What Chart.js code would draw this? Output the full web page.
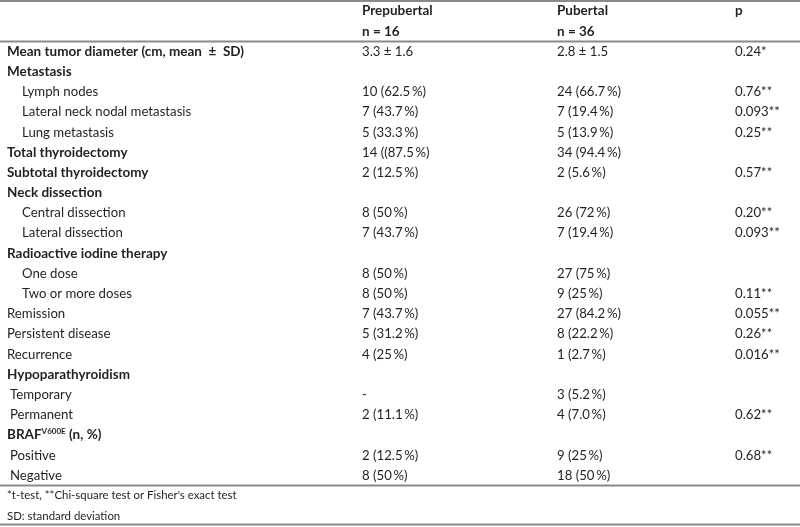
<!DOCTYPE html>
<html>
<head>
<meta charset="utf-8">
<script src="https://cdn.jsdelivr.net/npm/chart.js@4.4.1/dist/chart.umd.min.js"></script>
<style>
html, body { margin: 0; padding: 0; background: #fff; }
#wrap { width: 800px; height: 527px; }
</style>
</head>
<body>
<div id="wrap"><canvas id="table" width="800" height="527"></canvas></div>
<script>
/* table data, one array per column */
var headers = ["", "Prepubertal", "Pubertal", "p"];
var groupSizes = ["", "n = 16", "n = 36", ""];

var rowLabels = [
	"Mean tumor diameter (cm, mean \u00a0\u00b1\u00a0 SD)",
	"Metastasis",
	"Lymph nodes",
	"Lateral neck nodal metastasis",
	"Lung metastasis",
	"Total thyroidectomy",
	"Subtotal thyroidectomy",
	"Neck dissection",
	"Central dissection",
	"Lateral dissection",
	"Radioactive iodine therapy",
	"One dose",
	"Two or more doses",
	"Remission",
	"Persistent disease",
	"Recurrence",
	"Hypoparathyroidism",
	"Temporary",
	"Permanent",
	"BRAF{V600E} (n, %)",
	"Positive",
	"Negative"
];

// 0 = bold group row, 1 = sub row, 2 = slightly indented, 3 = plain row
var rowLevel = [0, 0, 1, 1, 1, 0, 0, 0, 1, 1, 0, 1, 1, 3, 3, 3, 0, 2, 2, 0, 2, 2];

var prepubertal = [
	"3.3 \u00b1 1.6", "", "10 (62.5\u2009%)", "7 (43.7\u2009%)", "5 (33.3\u2009%)",
	"14 ((87.5\u2009%)", "2 (12.5\u2009%)", "", "8 (50\u2009%)", "7 (43.7\u2009%)",
	"", "8 (50\u2009%)", "8 (50\u2009%)", "7 (43.7\u2009%)", "5 (31.2\u2009%)", "4 (25\u2009%)",
	"", "-", "2 (11.1\u2009%)", "", "2 (12.5\u2009%)", "8 (50\u2009%)"
];

var pubertal = [
	"2.8 \u00b1 1.5", "", "24 (66.7\u2009%)", "7 (19.4\u2009%)", "5 (13.9\u2009%)",
	"34 (94.4\u2009%)", "2 (5.6\u2009%)", "", "26 (72\u2009%)", "7 (19.4\u2009%)",
	"", "27 (75\u2009%)", "9 (25\u2009%)", "27 (84.2\u2009%)", "8 (22.2\u2009%)", "1 (2.7\u2009%)",
	"", "3 (5.2\u2009%)", "4 (7.0\u2009%)", "", "9 (25\u2009%)", "18 (50\u2009%)"
];

var pValues = [
	"0.24*", "", "0.76**", "0.093**", "0.25**",
	"", "0.57**", "", "0.20**", "0.093**",
	"", "", "0.11**", "0.055**", "0.26**", "0.016**",
	"", "", "0.62**", "", "0.68**", ""
];

var footnotes = [
	"*t-test, **Chi-square test or Fisher's exact test",
	"SD: standard deviation"
];

// every text line of the table is one category on the y axis
var lines = ["header", "n"].concat(rowLabels).concat(footnotes);

var textColor = "#231f20";
var ruleColor = "#8a8a8a";

function drawLabel(ctx, text, x, y, font, supFont) {
	var m = text.match(/^(.*)\{(.*)\}(.*)$/);
	ctx.font = font;
	if (!m) {
		ctx.fillText(text, x, y);
		return;
	}
	ctx.fillText(m[1], x, y);
	x += ctx.measureText(m[1]).width;
	ctx.font = supFont;
	ctx.fillText(m[2], x, y - 4);
	x += ctx.measureText(m[2]).width;
	ctx.font = font;
	ctx.fillText(m[3], x, y);
}

var tablePlugin = {
	id: "tableText",
	afterDraw: function(chart, args, opts) {
		var ctx = chart.ctx;
		var xs = chart.scales.x;
		var ys = chart.scales.y;
		var area = chart.chartArea;
		var step = ys.getPixelForValue(1) - ys.getPixelForValue(0);
		var cols = opts.columns.map(function(c) { return xs.getPixelForValue(c); });

		ctx.save();
		ctx.fillStyle = textColor;
		ctx.textBaseline = "middle";
		ctx.textAlign = "left";

		var bold = "bold 13.5px Lato";
		var reg = "13.2px Lato";

		// header rows
		ctx.font = bold;
		for (var c = 1; c < 4; c++) {
			ctx.fillText(headers[c], cols[c], ys.getPixelForValue(0));
			ctx.fillText(groupSizes[c], cols[c], ys.getPixelForValue(1));
		}

		// body rows
		for (var i = 0; i < rowLabels.length; i++) {
			var y = ys.getPixelForValue(i + 2);
			var lvl = rowLevel[i];
			var lx = xs.getPixelForValue(opts.indent[lvl]);
			drawLabel(ctx, rowLabels[i], lx, y, lvl === 0 ? bold : reg, lvl === 0 ? "bold 8px Lato" : "8px Lato");
			ctx.font = reg;
			ctx.fillText(prepubertal[i], cols[1], y);
			ctx.fillText(pubertal[i], cols[2], y);
			ctx.fillText(pValues[i], cols[3], y);
		}

		// footnotes
		ctx.font = "11.4px Lato";
		for (var f = 0; f < footnotes.length; f++) {
			ctx.fillText(footnotes[f], cols[0], ys.getPixelForValue(rowLabels.length + 2 + f));
		}

		// horizontal rules
		ctx.strokeStyle = ruleColor;
		ctx.lineWidth = 2;
		var rules = [area.top, area.top + 2 * step, area.top + (rowLabels.length + 2) * step, area.bottom - 1.5];
		rules.forEach(function(r) {
			ctx.beginPath();
			ctx.moveTo(area.left, r);
			ctx.lineTo(area.right, r);
			ctx.stroke();
		});
		ctx.restore();
	}
};

var chart = new Chart(document.getElementById("table").getContext("2d"), {
	type: "bar",
	data: {
		labels: lines,
		datasets: [{ data: [] }]
	},
	options: {
		indexAxis: "y",
		responsive: false,
		animation: false,
		layout: { padding: { top: 1, left: 0, right: 0, bottom: 1 } },
		scales: {
			x: { type: "linear", min: 0, max: 800, display: false },
			y: { type: "category", offset: true, display: false }
		},
		plugins: {
			legend: { display: false },
			tooltip: { enabled: false },
			tableText: {
				columns: [7, 362, 557, 735],
				indent: [7, 22, 10, 7]
			}
		}
	},
	plugins: [tablePlugin]
});
</script>
</body>
</html>
